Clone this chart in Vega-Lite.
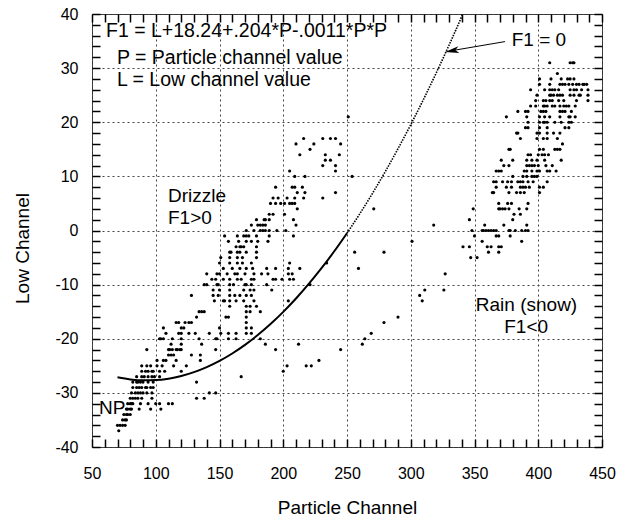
{
  "$schema": "https://vega.github.io/schema/vega-lite/v6.json",
  "width": 510,
  "height": 433,
  "autosize": {"type": "none"},
  "padding": {"left": 92, "top": 14, "right": 22, "bottom": 73},
  "config": {
    "view": {"stroke": "#333", "strokeWidth": 1},
    "font": "Liberation Sans",
    "text": {"font": "Liberation Sans"}
  },
  "datasets": {
    "one": [{}],
    "pts": [
      {"P":158,"L":-4},{"P":159,"L":-4},{"P":164,"L":-4},{"P":166,"L":-4},{"P":171,"L":-4},{"P":179,"L":-4},
      {"P":151,"L":-5},{"P":158,"L":-5},{"P":164,"L":-5},{"P":168,"L":-5},{"P":179,"L":-5},
      {"P":150,"L":-6},{"P":158,"L":-6},{"P":164,"L":-6},{"P":168,"L":-6},{"P":175,"L":-6},
      {"P":153,"L":-7},{"P":160,"L":-7},{"P":166,"L":-7},{"P":171,"L":-7},{"P":176,"L":-7},{"P":187,"L":-7},{"P":194,"L":-7},{"P":204,"L":-7},{"P":213,"L":-7},
      {"P":140,"L":-8},{"P":148,"L":-8},{"P":150,"L":-8},{"P":156,"L":-8},{"P":162,"L":-8},{"P":164,"L":-8},{"P":170,"L":-8},{"P":177,"L":-8},{"P":183,"L":-8},{"P":188,"L":-8},{"P":204,"L":-8},{"P":207,"L":-8},
      {"P":144,"L":-9},{"P":147,"L":-9},{"P":153,"L":-9},{"P":158,"L":-9},{"P":164,"L":-9},{"P":167,"L":-9},{"P":175,"L":-9},{"P":177,"L":-9},{"P":192,"L":-9},{"P":194,"L":-9},{"P":199,"L":-9},{"P":205,"L":-9},{"P":208,"L":-9},
      {"P":138,"L":-10},{"P":140,"L":-10},{"P":148,"L":-10},{"P":149,"L":-10},{"P":158,"L":-10},{"P":161,"L":-10},{"P":170,"L":-10},{"P":171,"L":-10},{"P":175,"L":-10},{"P":187,"L":-10},{"P":221,"L":-10},
      {"P":145,"L":-11},{"P":150,"L":-11},{"P":158,"L":-11},{"P":169,"L":-11},{"P":174,"L":-11},{"P":177,"L":-11},{"P":191,"L":-11},
      {"P":128,"L":-12},{"P":145,"L":-12},{"P":149,"L":-12},{"P":158,"L":-12},{"P":162,"L":-12},{"P":166,"L":-12},{"P":171,"L":-12},{"P":175,"L":-12},
      {"P":146,"L":-13},{"P":153,"L":-13},{"P":154,"L":-13},{"P":158,"L":-13},{"P":163,"L":-13},{"P":169,"L":-13},{"P":177,"L":-13},{"P":204,"L":-13},
      {"P":158,"L":-14},{"P":171,"L":-14},{"P":174,"L":-14},{"P":179,"L":-14},
      {"P":134,"L":-15},{"P":136,"L":-15},{"P":138,"L":-15},{"P":171,"L":-15},{"P":174,"L":-15},{"P":182,"L":-15},
      {"P":132,"L":-16},{"P":155,"L":-16},{"P":157,"L":-16},{"P":171,"L":-16},
      {"P":116,"L":-17},{"P":118,"L":-17},{"P":123,"L":-17},{"P":126,"L":-17},{"P":128,"L":-17},{"P":171,"L":-17},
      {"P":106,"L":-18},{"P":120,"L":-18},{"P":122,"L":-18},{"P":150,"L":-18},{"P":171,"L":-18},{"P":175,"L":-18},
      {"P":108,"L":-19},{"P":118,"L":-19},{"P":120,"L":-19},{"P":126,"L":-19},{"P":131,"L":-19},{"P":142,"L":-19},{"P":151,"L":-19},{"P":157,"L":-19},{"P":163,"L":-19},{"P":171,"L":-19},{"P":175,"L":-19},
      {"P":103,"L":-20},{"P":104,"L":-20},{"P":106,"L":-20},{"P":113,"L":-20},{"P":120,"L":-20},{"P":134,"L":-20},{"P":147,"L":-20},{"P":148,"L":-20},{"P":157,"L":-20},{"P":163,"L":-20},{"P":182,"L":-20},
      {"P":112,"L":-21},{"P":120,"L":-21},{"P":136,"L":-21},{"P":186,"L":-21},{"P":212,"L":-21},
      {"P":93,"L":-22},{"P":110,"L":-22},{"P":111,"L":-22},{"P":113,"L":-22},{"P":116,"L":-22},{"P":117,"L":-22},{"P":119,"L":-22},{"P":120,"L":-22},{"P":147,"L":-22},{"P":194,"L":-22},
      {"P":110,"L":-23},{"P":112,"L":-23},{"P":114,"L":-23},{"P":128,"L":-23},{"P":135,"L":-23},
      {"P":101,"L":-24},{"P":106,"L":-24},{"P":108,"L":-24},{"P":116,"L":-24},{"P":135,"L":-24},{"P":228,"L":-24},
      {"P":89,"L":-25},{"P":93,"L":-25},{"P":96,"L":-25},{"P":101,"L":-25},{"P":105,"L":-25},{"P":114,"L":-25},{"P":124,"L":-25},{"P":203,"L":-25},{"P":218,"L":-25},{"P":222,"L":-25},
      {"P":89,"L":-26},{"P":92,"L":-26},{"P":94,"L":-26},{"P":97,"L":-26},{"P":98,"L":-26},{"P":103,"L":-26},{"P":107,"L":-26},{"P":120,"L":-26},{"P":200,"L":-26},
      {"P":85,"L":-27},{"P":89,"L":-27},{"P":91,"L":-27},{"P":94,"L":-27},{"P":97,"L":-27},{"P":99,"L":-27},{"P":103,"L":-27},{"P":167,"L":-27},
      {"P":82,"L":-28},{"P":85,"L":-28},{"P":86,"L":-28},{"P":88,"L":-28},{"P":90,"L":-28},{"P":94,"L":-28},{"P":98,"L":-28},{"P":132,"L":-28},
      {"P":82,"L":-29},{"P":85,"L":-29},{"P":87,"L":-29},{"P":89,"L":-29},{"P":92,"L":-29},{"P":93,"L":-29},{"P":96,"L":-29},{"P":98,"L":-29},
      {"P":81,"L":-30},{"P":84,"L":-30},{"P":86,"L":-30},{"P":88,"L":-30},{"P":90,"L":-30},{"P":93,"L":-30},{"P":97,"L":-30},{"P":142,"L":-30},{"P":147,"L":-30},
      {"P":80,"L":-31},{"P":82,"L":-31},{"P":84,"L":-31},{"P":86,"L":-31},{"P":89,"L":-31},{"P":97,"L":-31},{"P":132,"L":-31},{"P":138,"L":-31},
      {"P":78,"L":-32},{"P":80,"L":-32},{"P":81,"L":-32},{"P":82,"L":-32},{"P":88,"L":-32},{"P":94,"L":-32},{"P":100,"L":-32},{"P":103,"L":-32},{"P":110,"L":-32},{"P":113,"L":-32},
      {"P":77,"L":-33},{"P":78,"L":-33},{"P":80,"L":-33},{"P":81,"L":-33},{"P":87,"L":-33},{"P":96,"L":-33},{"P":104,"L":-33},
      {"P":75,"L":-34},{"P":77,"L":-34},{"P":78,"L":-34},{"P":80,"L":-34},
      {"P":74,"L":-35},{"P":76,"L":-35},{"P":77,"L":-35},
      {"P":70,"L":-36},{"P":72,"L":-36},{"P":74,"L":-36},{"P":76,"L":-36},
      {"P":71,"L":-37},
      {"P":205,"L":11},{"P":194,"L":8},
      {"P":192,"L":6},{"P":196,"L":6},{"P":203,"L":6},
      {"P":190,"L":5},{"P":194,"L":5},{"P":198,"L":5},{"P":201,"L":5},{"P":205,"L":5},{"P":209,"L":5},
      {"P":189,"L":3},{"P":192,"L":3},{"P":201,"L":3},
      {"P":179,"L":2},{"P":185,"L":2},{"P":186,"L":2},{"P":189,"L":2},
      {"P":175,"L":1},{"P":180,"L":1},{"P":182,"L":1},{"P":184,"L":1},{"P":186,"L":1},
      {"P":171,"L":0},{"P":177,"L":0},{"P":182,"L":0},{"P":184,"L":0},{"P":186,"L":0},{"P":189,"L":0},{"P":195,"L":0},{"P":202,"L":0},
      {"P":154,"L":-1},{"P":164,"L":-1},{"P":169,"L":-1},{"P":171,"L":-1},{"P":173,"L":-1},{"P":179,"L":-1},{"P":189,"L":-1},{"P":208,"L":-1},
      {"P":157,"L":-2},{"P":165,"L":-2},{"P":171,"L":-2},{"P":175,"L":-2},{"P":180,"L":-2},{"P":188,"L":-2},
      {"P":163,"L":-3},{"P":166,"L":-3},{"P":167,"L":-3},{"P":169,"L":-3},{"P":179,"L":-3},
      {"P":251,"L":21},{"P":210,"L":16},{"P":216,"L":17},{"P":231,"L":17},{"P":237,"L":17},{"P":241,"L":17},{"P":224,"L":16},{"P":245,"L":16},
      {"P":221,"L":15},{"P":213,"L":14},{"P":233,"L":14},{"P":244,"L":14},{"P":233,"L":13},{"P":237,"L":13},{"P":231,"L":12},{"P":241,"L":12},
      {"P":241,"L":11},{"P":209,"L":10},{"P":217,"L":10},{"P":254,"L":10},{"P":207,"L":8},{"P":209,"L":8},{"P":215,"L":8},
      {"P":211,"L":7},{"P":217,"L":7},{"P":241,"L":7},{"P":209,"L":6},{"P":216,"L":6},{"P":231,"L":6},{"P":207,"L":5},
      {"P":211,"L":4},{"P":271,"L":4},{"P":208,"L":2},{"P":210,"L":1},{"P":318,"L":1},{"P":301,"L":-2},
      {"P":256,"L":-4},{"P":279,"L":-4},{"P":205,"L":-6},{"P":234,"L":-6},{"P":259,"L":-7},{"P":327,"L":-8},
      {"P":307,"L":-12},{"P":309,"L":-13},{"P":311,"L":-11},{"P":326,"L":-11},{"P":290,"L":-16},{"P":279,"L":-17},
      {"P":269,"L":-19},{"P":264,"L":-20},{"P":262,"L":-21},{"P":245,"L":-22},
      {"P":409,"L":31},{"P":425,"L":31},{"P":427,"L":31},{"P":428,"L":31},
      {"P":415,"L":29},
      {"P":401,"L":28},{"P":410,"L":28},{"P":418,"L":28},{"P":423,"L":28},{"P":425,"L":28},{"P":428,"L":28},
      {"P":401,"L":27},{"P":409,"L":27},{"P":417,"L":27},{"P":419,"L":27},{"P":421,"L":27},{"P":424,"L":27},{"P":427,"L":27},{"P":430,"L":27},{"P":432,"L":27},{"P":435,"L":27},{"P":436,"L":27},{"P":438,"L":27},
      {"P":394,"L":26},{"P":405,"L":26},{"P":409,"L":26},{"P":411,"L":26},{"P":413,"L":26},{"P":416,"L":26},{"P":425,"L":26},{"P":428,"L":26},{"P":430,"L":26},{"P":434,"L":26},{"P":439,"L":26},
      {"P":399,"L":25},{"P":409,"L":25},{"P":410,"L":25},{"P":412,"L":25},{"P":415,"L":25},{"P":417,"L":25},{"P":419,"L":25},{"P":425,"L":25},{"P":428,"L":25},{"P":432,"L":25},{"P":433,"L":25},{"P":439,"L":25},
      {"P":398,"L":24},{"P":404,"L":24},{"P":406,"L":24},{"P":409,"L":24},{"P":411,"L":24},{"P":416,"L":24},{"P":420,"L":24},{"P":430,"L":24},{"P":439,"L":24},
      {"P":394,"L":23},{"P":398,"L":23},{"P":404,"L":23},{"P":405,"L":23},{"P":407,"L":23},{"P":411,"L":23},{"P":413,"L":23},{"P":417,"L":23},{"P":420,"L":23},{"P":422,"L":23},{"P":424,"L":23},{"P":429,"L":23},
      {"P":384,"L":22},{"P":390,"L":22},{"P":392,"L":22},{"P":402,"L":22},{"P":404,"L":22},{"P":406,"L":22},{"P":417,"L":22},{"P":419,"L":22},{"P":421,"L":22},{"P":426,"L":22},
      {"P":375,"L":21},{"P":391,"L":21},{"P":401,"L":21},{"P":405,"L":21},{"P":409,"L":21},{"P":417,"L":21},{"P":424,"L":21},{"P":425,"L":21},{"P":429,"L":21},
      {"P":392,"L":20},{"P":401,"L":20},{"P":404,"L":20},{"P":405,"L":20},{"P":407,"L":20},{"P":413,"L":20},{"P":418,"L":20},{"P":424,"L":20},{"P":426,"L":20},
      {"P":390,"L":19},{"P":392,"L":19},{"P":401,"L":19},{"P":407,"L":19},{"P":421,"L":19},{"P":424,"L":19},
      {"P":383,"L":18},{"P":384,"L":18},{"P":399,"L":18},{"P":401,"L":18},{"P":407,"L":18},{"P":412,"L":18},{"P":417,"L":18},
      {"P":386,"L":17},{"P":399,"L":17},{"P":404,"L":17},{"P":407,"L":17},{"P":415,"L":17},
      {"P":419,"L":16},
      {"P":377,"L":15},{"P":378,"L":15},{"P":401,"L":15},{"P":404,"L":15},{"P":413,"L":15},{"P":415,"L":15},{"P":417,"L":15},
      {"P":392,"L":14},{"P":394,"L":14},{"P":400,"L":14},{"P":403,"L":14},{"P":405,"L":14},{"P":408,"L":14},
      {"P":371,"L":13},{"P":380,"L":13},{"P":391,"L":13},{"P":395,"L":13},{"P":399,"L":13},{"P":405,"L":13},{"P":418,"L":13},
      {"P":373,"L":12},{"P":377,"L":12},{"P":391,"L":12},{"P":393,"L":12},{"P":395,"L":12},{"P":397,"L":12},{"P":400,"L":12},{"P":406,"L":12},{"P":411,"L":12},
      {"P":367,"L":11},{"P":369,"L":11},{"P":371,"L":11},{"P":389,"L":11},{"P":391,"L":11},{"P":395,"L":11},{"P":399,"L":11},{"P":401,"L":11},{"P":407,"L":11},{"P":409,"L":11},{"P":414,"L":11},
      {"P":380,"L":10},{"P":388,"L":10},{"P":391,"L":10},{"P":395,"L":10},{"P":397,"L":10},{"P":399,"L":10},
      {"P":365,"L":9},{"P":367,"L":9},{"P":372,"L":9},{"P":376,"L":9},{"P":379,"L":9},{"P":384,"L":9},{"P":386,"L":9},{"P":388,"L":9},{"P":392,"L":9},{"P":396,"L":9},{"P":407,"L":9},
      {"P":367,"L":8},{"P":375,"L":8},{"P":379,"L":8},{"P":386,"L":8},{"P":388,"L":8},{"P":390,"L":8},{"P":393,"L":8},{"P":401,"L":8},{"P":404,"L":8},
      {"P":364,"L":7},{"P":365,"L":7},{"P":377,"L":7},{"P":383,"L":7},{"P":386,"L":7},{"P":389,"L":7},{"P":401,"L":7},
      {"P":369,"L":5},{"P":376,"L":5},{"P":379,"L":5},{"P":392,"L":5},
      {"P":349,"L":4},{"P":369,"L":4},{"P":370,"L":4},{"P":372,"L":4},{"P":374,"L":4},{"P":377,"L":4},{"P":385,"L":4},{"P":391,"L":4},
      {"P":381,"L":3},{"P":386,"L":3},
      {"P":346,"L":2},{"P":380,"L":2},
      {"P":358,"L":1},{"P":373,"L":1},{"P":391,"L":1},
      {"P":348,"L":0},{"P":356,"L":0},{"P":357,"L":0},{"P":359,"L":0},{"P":361,"L":0},{"P":363,"L":0},{"P":365,"L":0},{"P":367,"L":0},{"P":377,"L":0},{"P":378,"L":0},{"P":382,"L":0},{"P":387,"L":0},{"P":390,"L":0},{"P":392,"L":0},
      {"P":350,"L":-1},{"P":367,"L":-1},{"P":369,"L":-1},{"P":378,"L":-1},
      {"P":356,"L":-2},{"P":387,"L":-2},
      {"P":341,"L":-3},{"P":346,"L":-3},{"P":360,"L":-3},{"P":363,"L":-3},{"P":369,"L":-3},{"P":371,"L":-3},
      {"P":361,"L":-4},{"P":369,"L":-4},
      {"P":347,"L":-5},{"P":352,"L":-5}
    ],
    "curveA": [
      {"P":70,"L":-27.13},{"P":80,"L":-27.52},{"P":90,"L":-27.69},{"P":100,"L":-27.64},{"P":110,"L":-27.37},
      {"P":120,"L":-26.88},{"P":130,"L":-26.17},{"P":140,"L":-25.24},{"P":150,"L":-24.09},{"P":160,"L":-22.72},
      {"P":170,"L":-21.13},{"P":180,"L":-19.32},{"P":190,"L":-17.29},{"P":200,"L":-15.04},{"P":210,"L":-12.57},
      {"P":220,"L":-9.88},{"P":230,"L":-6.97},{"P":240,"L":-3.84},{"P":250,"L":-0.49}
    ],
    "curveB": [
      {"P":250,"L":-0.49},{"P":260,"L":3.08},{"P":270,"L":6.87},{"P":280,"L":10.88},{"P":290,"L":15.11},
      {"P":300,"L":19.56},{"P":310,"L":24.23},{"P":320,"L":29.12},{"P":330,"L":34.23},{"P":340,"L":39.56},{"P":340.8,"L":40.0}
    ]
  },
  "resolve": {"axis": {"x": "independent", "y": "independent"}},
  "layer": [
    {
      "data": {"name": "pts"},
      "mark": {"type": "circle", "size": 10, "color": "black", "opacity": 1},
      "encoding": {
        "x": {
          "field": "P", "type": "quantitative",
          "scale": {"domain": [50, 450], "nice": false, "zero": false},
          "axis": {
            "orient": "bottom", "offset": -8,
            "values": [50,60,70,80,90,100,110,120,130,140,150,160,170,180,190,200,210,220,230,240,250,260,270,280,290,300,310,320,330,340,350,360,370,380,390,400,410,420,430,440,450],
            "labelExpr": "datum.value % 50 === 0 ? '' + datum.value : ''",
            "labelOverlap": false, "labelFlush": false,
            "labelFont": "Liberation Sans", "labelFontSize": 16, "labelColor": "black", "labelPadding": 18,
            "ticks": true, "tickSize": 8, "tickColor": "black", "tickWidth": 1.5, "tickOpacity": 1,
            "domain": false,
            "grid": true, "gridColor": "#444", "gridDash": [2, 3], "gridWidth": 1,
            "gridOpacity": {"condition": {"test": "datum.value % 50 === 0", "value": 1}, "value": 0},
            "title": "Particle Channel", "titleFont": "Liberation Sans", "titleFontSize": 19, "titleFontWeight": "normal",
            "titleColor": "black", "titleY": 74, "titleBaseline": "alphabetic"
          }
        },
        "y": {
          "field": "L", "type": "quantitative",
          "scale": {"domain": [-40, 40], "nice": false, "zero": false},
          "axis": {
            "orient": "left", "offset": -8,
            "values": [-40,-38,-36,-34,-32,-30,-28,-26,-24,-22,-20,-18,-16,-14,-12,-10,-8,-6,-4,-2,0,2,4,6,8,10,12,14,16,18,20,22,24,26,28,30,32,34,36,38,40],
            "labelExpr": "datum.value % 10 === 0 ? '' + datum.value : ''",
            "labelOverlap": false, "labelFlush": false,
            "labelFont": "Liberation Sans", "labelFontSize": 16, "labelColor": "black", "labelPadding": 14,
            "ticks": true, "tickSize": 8, "tickColor": "black", "tickWidth": 1.5, "tickOpacity": 1,
            "domain": false,
            "grid": true, "gridColor": "#444", "gridDash": [2, 3], "gridWidth": 1,
            "gridOpacity": {"condition": {"test": "datum.value % 10 === 0", "value": 1}, "value": 0},
            "title": "Low Channel", "titleFont": "Liberation Sans", "titleFontSize": 19, "titleFontWeight": "normal",
            "titleColor": "black", "titleX": -77.4, "titleY": 234, "titleBaseline": "middle"
          }
        }
      }
    },
    {
      "data": {"name": "curveA"},
      "mark": {"type": "line", "color": "black", "strokeWidth": 2, "interpolate": "monotone"},
      "encoding": {
        "x": {
          "field": "P", "type": "quantitative",
          "axis": {
            "orient": "top", "offset": -8,
            "values": [50,60,70,80,90,100,110,120,130,140,150,160,170,180,190,200,210,220,230,240,250,260,270,280,290,300,310,320,330,340,350,360,370,380,390,400,410,420,430,440,450],
            "labels": false, "grid": false, "domain": false, "title": null,
            "ticks": true, "tickSize": 8, "tickColor": "black", "tickWidth": 1.5, "tickOpacity": 1
          }
        },
        "y": {
          "field": "L", "type": "quantitative",
          "axis": {
            "orient": "right", "offset": -8,
            "values": [-40,-38,-36,-34,-32,-30,-28,-26,-24,-22,-20,-18,-16,-14,-12,-10,-8,-6,-4,-2,0,2,4,6,8,10,12,14,16,18,20,22,24,26,28,30,32,34,36,38,40],
            "labels": false, "grid": false, "domain": false, "title": null,
            "ticks": true, "tickSize": 8, "tickColor": "black", "tickWidth": 1.5, "tickOpacity": 1
          }
        }
      }
    },
    {
      "data": {"name": "curveB"},
      "mark": {"type": "line", "color": "black", "strokeWidth": 1.6, "strokeDash": [1.5, 1.2], "interpolate": "monotone"},
      "encoding": {
        "x": {"field": "P", "type": "quantitative", "axis": null},
        "y": {"field": "L", "type": "quantitative", "axis": null}
      }
    },
    {
      "data": {"name": "one"},
      "mark": {"type": "rule", "color": "black", "strokeWidth": 1},
      "encoding": {
        "x": {"datum": 373.9, "type": "quantitative", "axis": null},
        "y": {"datum": 34.9, "type": "quantitative", "axis": null},
        "x2": {"datum": 334},
        "y2": {"datum": 33.3}
      }
    },
    {
      "data": {"name": "one"},
      "mark": {"type": "point", "shape": "M -1 0 L 1 -0.5 L 0.5 0 L 1 0.5 Z", "filled": true, "color": "black", "opacity": 1, "size": 196, "angle": 350.6, "strokeWidth": 0},
      "encoding": {
        "x": {"datum": 332.3, "type": "quantitative", "axis": null},
        "y": {"datum": 33.2, "type": "quantitative", "axis": null}
      }
    },
    {
      "data": {"name": "one"},
      "mark": {"type": "text", "align": "left", "baseline": "middle", "fontSize": 19.5, "color": "black", "text": "F1 = L+18.24+.204*P-.0011*P*P"},
      "encoding": {
        "x": {"datum": 61, "type": "quantitative", "axis": null},
        "y": {"datum": 36.86, "type": "quantitative", "axis": null}
      }
    },
    {
      "data": {"name": "one"},
      "mark": {"type": "text", "align": "left", "baseline": "middle", "fontSize": 19.5, "color": "black", "text": "P = Particle channel value"},
      "encoding": {
        "x": {"datum": 69.6, "type": "quantitative", "axis": null},
        "y": {"datum": 31.87, "type": "quantitative", "axis": null}
      }
    },
    {
      "data": {"name": "one"},
      "mark": {"type": "text", "align": "left", "baseline": "middle", "fontSize": 19.5, "color": "black", "text": "L = Low channel value"},
      "encoding": {
        "x": {"datum": 69.6, "type": "quantitative", "axis": null},
        "y": {"datum": 27.8, "type": "quantitative", "axis": null}
      }
    },
    {
      "data": {"name": "one"},
      "mark": {"type": "text", "align": "left", "baseline": "middle", "fontSize": 19, "color": "black", "text": "F1 = 0"},
      "encoding": {
        "x": {"datum": 379.2, "type": "quantitative", "axis": null},
        "y": {"datum": 35.2, "type": "quantitative", "axis": null}
      }
    },
    {
      "data": {"name": "one"},
      "mark": {"type": "text", "align": "left", "baseline": "middle", "fontSize": 19, "color": "black", "text": "Drizzle"},
      "encoding": {
        "x": {"datum": 109.6, "type": "quantitative", "axis": null},
        "y": {"datum": 6.37, "type": "quantitative", "axis": null}
      }
    },
    {
      "data": {"name": "one"},
      "mark": {"type": "text", "align": "left", "baseline": "middle", "fontSize": 19, "color": "black", "text": "F1>0"},
      "encoding": {
        "x": {"datum": 109.6, "type": "quantitative", "axis": null},
        "y": {"datum": 2.31, "type": "quantitative", "axis": null}
      }
    },
    {
      "data": {"name": "one"},
      "mark": {"type": "text", "align": "center", "baseline": "middle", "fontSize": 19, "color": "black", "text": "Rain (snow)"},
      "encoding": {
        "x": {"datum": 390.8, "type": "quantitative", "axis": null},
        "y": {"datum": -13.8, "type": "quantitative", "axis": null}
      }
    },
    {
      "data": {"name": "one"},
      "mark": {"type": "text", "align": "center", "baseline": "middle", "fontSize": 19, "color": "black", "text": "F1<0"},
      "encoding": {
        "x": {"datum": 390.5, "type": "quantitative", "axis": null},
        "y": {"datum": -17.9, "type": "quantitative", "axis": null}
      }
    },
    {
      "data": {"name": "one"},
      "mark": {"type": "text", "align": "left", "baseline": "middle", "fontSize": 19, "color": "black", "text": "NP"},
      "encoding": {
        "x": {"datum": 55.5, "type": "quantitative", "axis": null},
        "y": {"datum": -32.8, "type": "quantitative", "axis": null}
      }
    }
  ]
}
